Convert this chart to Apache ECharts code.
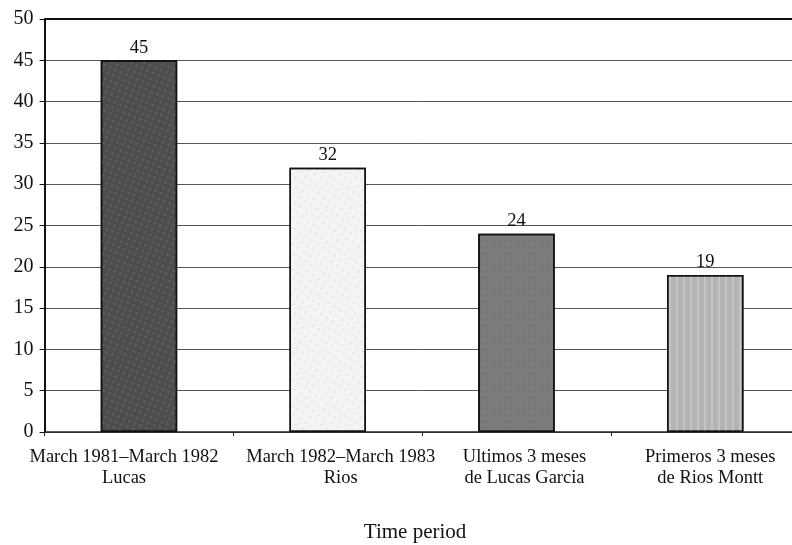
<!DOCTYPE html>
<html><head><meta charset="utf-8">
<script src="https://cdn.jsdelivr.net/npm/echarts@6/dist/echarts.min.js"></script>
<style>html,body{margin:0;padding:0;background:#fff}#c{width:792px;height:545px}</style>
</head><body><div id="c"></div>
<script>
const categories = ["March 1981\u2013March 1982\nLucas", "March 1982\u2013March 1983\nRios", "Ultimos 3 meses\nde Lucas Garcia", "Primeros 3 meses\nde Rios Montt"];
const values = [45, 32, 24, 19];
const yTicks = [0, 5, 10, 15, 20, 25, 30, 35, 40, 45, 50];
const xTitle = "Time period";

// styling
const barColors = ["#4d4d4d", "#f4f4f4", "#7c7c7c", "#b4b4b4"];
const labelShiftPx = [-15, 13, 8, 5];
const font = "'Liberation Serif', 'DejaVu Serif', serif";

const chart = echarts.init(document.getElementById('c'), null, {renderer: 'canvas'});
chart.setOption({
  animation: false,
  backgroundColor: '#fff',
  grid: {left: 44.6, width: 755, top: 19, height: 413, containLabel: false, outerBoundsMode: 'none'},
  xAxis: {
    type: 'category',
    data: categories.map((c, i) => ({
      value: c,
      textStyle: {padding: labelShiftPx[i] < 0 ? [0, -2 * labelShiftPx[i], 0, 0] : [0, 0, 0, 2 * labelShiftPx[i]]}
    })),
    name: xTitle, nameLocation: 'middle', nameGap: 90,
    nameTextStyle: {fontFamily: font, fontSize: 21, color: '#111', padding: [0, 14, 0, 0]},
    axisLine: {lineStyle: {color: '#222', width: 1.5}},
    axisTick: {show: true, length: 4, inside: false, lineStyle: {color: '#222'}},
    axisLabel: {fontFamily: font, fontSize: 18.5, color: '#111', lineHeight: 21, margin: 15, interval: 0}
  },
  yAxis: {
    type: 'value', min: 0, max: 50, interval: 5,
    axisLine: {show: true, lineStyle: {color: '#111', width: 2}},
    axisTick: {show: true, length: 5, lineStyle: {color: '#111'}},
    axisLabel: {fontFamily: font, fontSize: 20, color: '#111', margin: 11},
    splitLine: {show: true, lineStyle: {color: '#555', width: 1}}
  },
  series: [{
    type: 'bar', barWidth: '40.5%',
    data: values.map((v, i) => ({
      value: v,
      itemStyle: {
        color: barColors[i], borderColor: '#111', borderWidth: 1.5,
        decal: i === 1 ? {symbol: 'circle', symbolSize: 0.6, dashArrayX: [2, 5], dashArrayY: [2, 5], rotation: 0.6, color: 'rgba(140,140,140,0.6)'} :
               i === 0 ? {symbol: 'circle', symbolSize: 0.8, dashArrayX: [3, 3], dashArrayY: [3, 3], rotation: 0.4, color: 'rgba(150,150,150,0.3)'} :
               i === 3 ? {symbol: 'rect', symbolSize: 1, dashArrayX: [1, 0], dashArrayY: [3, 4], rotation: Math.PI / 2, color: 'rgba(215,215,215,0.45)'} :
               {symbol: 'circle', symbolSize: 0.7, dashArrayX: [3, 3], dashArrayY: [3, 3], color: 'rgba(100,100,100,0.35)'}
      }
    })),
    label: {show: true, position: 'top', distance: 3, fontFamily: font, fontSize: 18.5, color: '#111'},
    markLine: {
      silent: true, symbol: 'none', label: {show: false},
      lineStyle: {color: '#111', width: 2, type: 'solid'},
      data: [{yAxis: yTicks[yTicks.length - 1]}]
    }
  }],
  aria: {enabled: false, decal: {show: true}}
});
</script>
</body></html>
